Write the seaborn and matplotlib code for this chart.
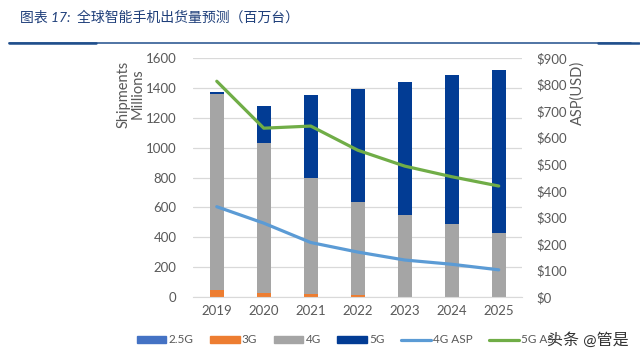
import matplotlib
matplotlib.use("Agg")
import matplotlib.pyplot as plt
import numpy as np
import pandas as pd
import seaborn as sns
from matplotlib.lines import Line2D
from matplotlib.patches import Patch

# data (millions of units / USD)
years = ["2019", "2020", "2021", "2022", "2023", "2024", "2025"]
ship_25g = [0, 0, 0, 0, 0, 0, 0]
ship_3g = [48, 28, 21, 12, 0, 0, 0]
ship_4g = [1310, 1001, 776, 624, 548, 488, 425]
ship_5g = [18, 253, 555, 758, 895, 996, 1094]
asp_4g = [340, 278, 205, 169, 139, 123, 102]
asp_5g = [813, 636, 644, 553, 493, 453, 418]

series = ["2.5G", "3G", "4G", "5G"]
colors = {"2.5G": "#4472C4", "3G": "#ED7D31", "4G": "#A5A5A5", "5G": "#023C94"}
c_4g_asp = "#5B9BD5"
c_5g_asp = "#70AD47"
txt = "#595959"

sns.set_style("white")
plt.rcParams["font.family"] = ["Lato", "Noto Sans CJK SC", "DejaVu Sans"]

fig = plt.figure(figsize=(6.4, 3.59), dpi=100)
ax = fig.add_axes([0.302, 0.173, 0.514, 0.665])

df = pd.DataFrame({"year": years, "2.5G": ship_25g, "3G": ship_3g,
                   "4G": ship_4g, "5G": ship_5g})
cum = df[series].cumsum(axis=1)

# stacked bars: draw the running totals from the top segment down
for s in reversed(series):
    sns.barplot(x=df["year"], y=cum[s], color=colors[s], width=0.3,
                saturation=1, linewidth=0, ax=ax, zorder=2)

ax.set_ylim(0, 1600)
ax.set_xlim(-0.5, 6.5)
ax.set_yticks(range(0, 1601, 200))
ax.yaxis.grid(True, color="#D9D9D9", linewidth=0.9, zorder=0)
ax.set_axisbelow(True)
ax.set_xlabel("")
ax.set_ylabel("")
for sp in ["top", "left", "right"]:
    ax.spines[sp].set_visible(False)
ax.spines["bottom"].set_color("#D9D9D9")
ax.tick_params(axis="both", length=0, labelsize=9.5, colors=txt)
ax.tick_params(axis="y", pad=12)
ax.tick_params(axis="x", pad=6)

ax2 = ax.twinx()
xs = np.arange(len(years))
sns.lineplot(x=xs, y=asp_4g, color=c_4g_asp, linewidth=2.3, ax=ax2)
sns.lineplot(x=xs, y=asp_5g, color=c_5g_asp, linewidth=2.3, ax=ax2)
ax2.set_ylim(0, 900)
ax2.set_yticks(range(0, 901, 100))
ax2.set_yticklabels([f"${v}" for v in range(0, 901, 100)])
ax2.tick_params(axis="y", length=0, labelsize=9.5, colors=txt, pad=10)
for sp in ax2.spines.values():
    sp.set_visible(False)
ax2.set_xlim(-0.5, 6.5)

fig.text(0.204, 0.738, "Shipments\nMillions", rotation=90, ha="center",
         va="center", fontsize=10.5, color=txt, linespacing=1.05)
fig.text(0.903, 0.74, "ASP(USD)", rotation=90, ha="center", va="center",
         fontsize=10.5, color=txt)

# title and rule
fig.text(0.031, 0.952, "图表 17:  全球智能手机出货量预测（百万台）", fontsize=10,
         color="#1F3F7A", style="italic", ha="left", va="center")
fig.add_artist(Line2D([0.014, 0.986], [0.879, 0.879], color="#1F4E8C",
                      linewidth=1.1, transform=fig.transFigure))
fig.add_artist(Line2D([0.014, 0.15], [0.879, 0.879], color="#1F4E8C",
                      linewidth=1.8, transform=fig.transFigure))
fig.add_artist(Line2D([0.934, 0.999], [0.879, 0.879], color="#1F4E8C",
                      linewidth=1.8, transform=fig.transFigure))

handles = [Patch(color=colors[s], label=s) for s in series]
handles += [Line2D([], [], color=c_4g_asp, linewidth=2.3, label="4G ASP"),
            Line2D([], [], color=c_5g_asp, linewidth=2.3, label="5G ASP")]
fig.legend(handles=handles, loc="center", bbox_to_anchor=(0.545, 0.053), ncol=6,
           frameon=False, fontsize=8.5, labelcolor=txt, handlelength=2.5,
           handleheight=0.6, handletextpad=0.2, columnspacing=1.4)

fig.text(0.983, 0.053, "头条 @管是", fontsize=11.5, color="#333333",
         ha="right", va="center")

fig.savefig("out.png", dpi=100)
